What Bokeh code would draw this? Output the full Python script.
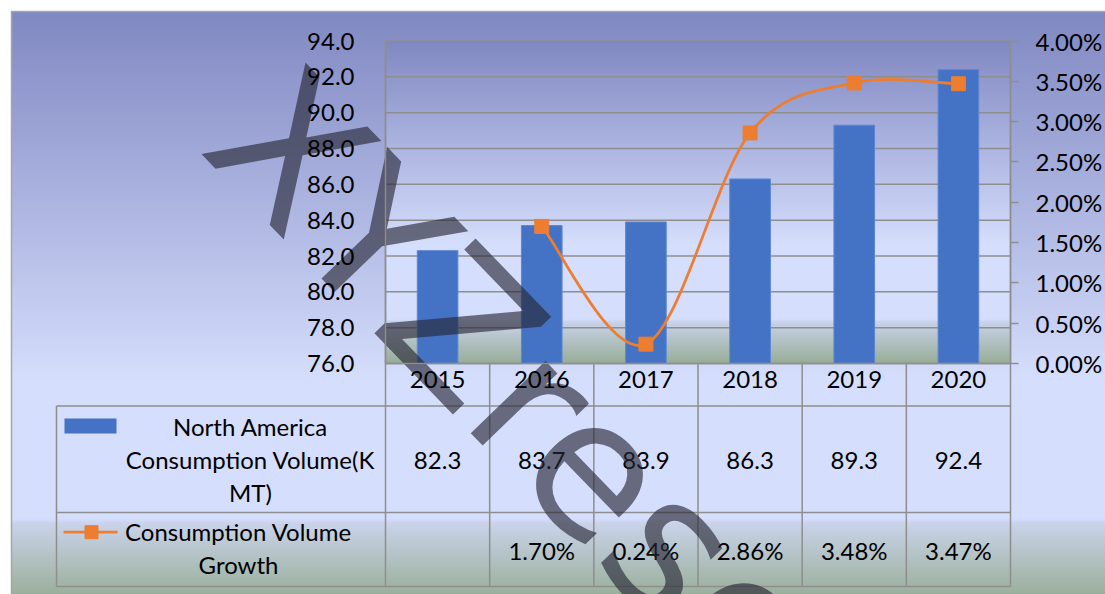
import numpy as np
from bokeh.plotting import figure
from bokeh.models import Range1d, LinearAxis, FixedTicker, NumeralTickFormatter, PrintfTickFormatter
from bokeh.core.properties import value
from bokeh.embed import file_html
from bokeh.resources import INLINE

# ---------------- data ----------------
years = ["2015", "2016", "2017", "2018", "2019", "2020"]
volume = [82.3, 83.7, 83.9, 86.3, 89.3, 92.4]
growth_years = ["2016", "2017", "2018", "2019", "2020"]
growth = [0.0170, 0.0024, 0.0286, 0.0348, 0.0347]
vol_ticks = [76.0, 78.0, 80.0, 82.0, 84.0, 86.0, 88.0, 90.0, 92.0, 94.0]
pct_ticks = [0.0, 0.005, 0.010, 0.015, 0.020, 0.025, 0.030, 0.035, 0.040]
legend_labels = ["North America\nConsumption Volume(K\nMT)", "Consumption Volume\nGrowth"]
watermark = "XYZresearch"

# ---------------- layout (pixels of the page) ----------------
W, H = 1105, 594
OX, OY = 0, 0
PL, PR, PT, PB = 385.0, 1010.0, 40.5, 363.0
TL, R1, R2, TB = 56.0, 405.5, 512.0, 586.0
vmin, vmax = vol_ticks[0], vol_ticks[-1]
pmin, pmax = pct_ticks[0], pct_ticks[-1]
CW = (PR - PL) / len(years)
PY = (PB - PT) / (vmax - vmin)

def dx(px):
    return (px - PL) / CW - 0.5

def dy(py):
    return vmin + (PB - py) / PY

def to_pct(v):
    return (v - vmin) * (pmax - pmin) / (vmax - vmin) + pmin

FONT = "Lato"
GRID = "#8E8E8E"
BLUE = "#4472C4"
ORANGE = "#ED7D31"

p = figure(width=W, height=H, output_backend="svg", toolbar_location=None,
           x_range=Range1d(dx(OX), dx(OX + W)), y_range=Range1d(dy(OY + H), dy(OY)),
           x_axis_location=None, y_axis_location=None, min_border=0)
p.extra_y_ranges = {"pct": Range1d(to_pct(dy(OY + H)), to_pct(dy(OY)))}
p.xgrid.visible = False
p.ygrid.visible = False
p.outline_line_color = None
p.background_fill_color = "white"
p.border_fill_color = "white"

# ---------------- gradient backgrounds ----------------
stops = [(0.0, (128, 136, 194)), (0.63, (213, 222, 252)), (0.865, (213, 222, 252)),
         (0.872, (202, 211, 234)), (1.0, (152, 174, 152))]

def gradient(n):
    t = np.linspace(0, 1, n)
    pos = [s[0] for s in stops]
    img = np.zeros((n, 2), dtype=np.uint32)
    view = img.view(dtype=np.uint8).reshape((n, 2, 4))
    for k in range(3):
        ch = np.interp(t, pos, [s[1][k] for s in stops])
        view[:, :, k] = np.round(ch).astype(np.uint8)[:, None]
    view[:, :, 3] = 255
    return img[::-1]

ox0, oy0, ox1, oy1 = 11.0, 11.0, 1130.0, 598.0
p.image_rgba(image=[gradient(int(oy1 - oy0))], x=dx(ox0), y=dy(oy1),
             dw=dx(ox1) - dx(ox0), dh=dy(oy0) - dy(oy1))
p.quad(left=dx(ox0), right=dx(ox1 + 50), top=dy(oy0), bottom=dy(oy1 + 50),
       fill_color=None, line_color="#A6A6A6", line_width=1.5)
p.image_rgba(image=[gradient(int(PB - PT))], x=dx(PL), y=dy(PB),
             dw=dx(PR) - dx(PL), dh=dy(PT) - dy(PB))

# ---------------- grid ----------------
p.segment(x0=[dx(PL)] * len(vol_ticks), x1=[dx(PR)] * len(vol_ticks),
          y0=vol_ticks, y1=vol_ticks, line_color=GRID, line_width=1.5)

# ---------------- bars ----------------
xi = list(range(len(years)))
p.vbar(x=xi, top=volume, bottom=vmin, width=0.39, fill_color=BLUE,
       line_color="#5B87D6", line_width=1)

# ---------------- smooth growth line (Catmull-Rom -> Bezier) ----------------
gx = [years.index(y) for y in growth_years]
n = len(gx)
x0s, y0s, x1s, y1s, cx0s, cy0s, cx1s, cy1s = [], [], [], [], [], [], [], []
for i in range(n - 1):
    pa = (gx[max(i - 1, 0)], growth[max(i - 1, 0)])
    pb = (gx[i], growth[i])
    pc = (gx[i + 1], growth[i + 1])
    pd = (gx[min(i + 2, n - 1)], growth[min(i + 2, n - 1)])
    x0s.append(pb[0]); y0s.append(pb[1]); x1s.append(pc[0]); y1s.append(pc[1])
    cx0s.append(pb[0] + (pc[0] - pa[0]) / 6); cy0s.append(pb[1] + (pc[1] - pa[1]) / 6)
    cx1s.append(pc[0] - (pd[0] - pb[0]) / 6); cy1s.append(pc[1] - (pd[1] - pb[1]) / 6)
p.bezier(x0=x0s, y0=y0s, x1=x1s, y1=y1s, cx0=cx0s, cy0=cy0s, cx1=cx1s, cy1=cy1s,
         line_color=ORANGE, line_width=2.75, y_range_name="pct")
p.scatter(x=gx, y=growth, marker="square", size=14, fill_color=ORANGE,
          line_color=ORANGE, y_range_name="pct")

# ---------------- data table ----------------
bounds_x = [dx(PL + CW * (i + 1)) for i in range(len(years) - 1)]
p.segment(x0=[dx(PL), dx(PR)], x1=[dx(PL), dx(PR)], y0=[dy(PT)] * 2, y1=[dy(TB)] * 2,
          line_color=GRID, line_width=1.5)
p.segment(x0=bounds_x, x1=bounds_x, y0=[dy(PB)] * len(bounds_x), y1=[dy(TB)] * len(bounds_x),
          line_color=GRID, line_width=1.5)
p.segment(x0=[dx(TL)], x1=[dx(TL)], y0=[dy(R1)], y1=[dy(TB)], line_color=GRID, line_width=1.5)
p.segment(x0=[dx(TL)] * 3, x1=[dx(PR)] * 3, y0=[dy(R1), dy(R2), dy(TB)],
          y1=[dy(R1), dy(R2), dy(TB)], line_color=GRID, line_width=1.5)

p.text(x=xi, y=[dy(460)] * len(xi), text=[f"{v:.1f}" for v in volume],
       text_align="center", text_baseline="middle", text_font=value(FONT),
       text_font_size="24px", text_color="black")
p.text(x=gx, y=[dy(549.5)] * len(gx), text=[f"{g * 100:.2f}%" for g in growth],
       text_align="center", text_baseline="middle", text_font=value(FONT),
       text_font_size="24px", text_color="black")

# legend keys and names in the table
p.quad(left=dx(64), right=dx(116), top=dy(418), bottom=dy(433), fill_color=BLUE, line_color=None)
p.segment(x0=[dx(63)], x1=[dx(117)], y0=[to_pct(dy(531.7))], y1=[to_pct(dy(531.7))],
          line_color=ORANGE, line_width=2.75, y_range_name="pct")
p.scatter(x=[dx(91)], y=[to_pct(dy(531.7))], marker="square", size=13,
          fill_color=ORANGE, line_color=ORANGE, y_range_name="pct")
p.text(x=[dx(250), dx(238)], y=[dy(459), dy(547.4)], text=legend_labels,
       text_align="center", text_baseline="middle", text_font=value(FONT),
       text_font_size="24px", text_color="black", text_line_height=1.15)

# ---------------- watermark ----------------
p.text(x=[dx(244)], y=[dy(104)], text=[watermark], angle=-46, angle_units="deg",
       text_align="left", text_baseline="middle", text_font=value("DejaVu Sans"),
       text_font_size="190px", text_color="#262634", text_alpha=0.63)

# ---------------- axes ----------------
def style(ax):
    ax.major_label_text_font = FONT
    ax.major_label_text_font_size = "24px"
    ax.major_label_text_color = "black"
    ax.axis_line_color = GRID
    ax.axis_line_width = 1.5
    ax.minor_tick_line_color = None

left = LinearAxis(bounds=(vmin, vmax), ticker=FixedTicker(ticks=vol_ticks),
                  formatter=PrintfTickFormatter(format="%.1f"), fixed_location=dx(PL))
style(left)
left.major_tick_line_color = None
left.major_tick_out = 0
left.major_tick_in = 0
left.major_label_standoff = 31
p.add_layout(left, "left")

right = LinearAxis(y_range_name="pct", bounds=(pmin, pmax), ticker=FixedTicker(ticks=pct_ticks),
                   formatter=NumeralTickFormatter(format="0.00%"), fixed_location=dx(PR))
style(right)
right.major_tick_line_color = GRID
right.major_tick_line_width = 1.5
right.major_tick_out = 8
right.major_tick_in = 0
right.major_label_standoff = 17
p.add_layout(right, "right")

bottom = LinearAxis(bounds=(dx(PL), dx(PR)), ticker=FixedTicker(ticks=xi),
                    major_label_overrides={i: y for i, y in zip(xi, years)},
                    fixed_location=vmin)
style(bottom)
bottom.major_tick_line_color = None
bottom.major_tick_out = 0
bottom.major_tick_in = 0
bottom.major_label_standoff = 7
p.add_layout(bottom, "below")

open("out.html", "w").write(file_html(p, INLINE))
